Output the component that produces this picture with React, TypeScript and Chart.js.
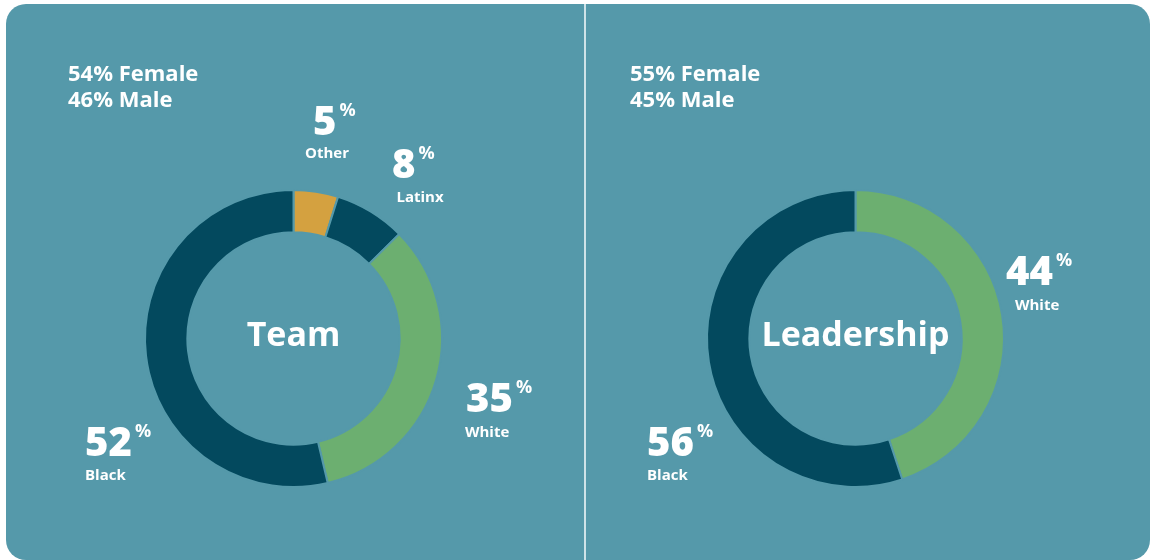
import React, { useEffect, useRef } from "react";
import { Chart, registerables } from "chart.js";

Chart.register(...registerables);

// ---- data ----
const teamCategories = ["Other", "Latinx", "White", "Black"];
// percentages printed next to the ring
const teamValues = [5, 8, 35, 52];
// arc shares as drawn in the ring
const teamArcShares = [4.85, 7.75, 33.7, 53.7];
const teamGender = ["54% Female", "46% Male"];

const leadershipCategories = ["White", "Black"];
const leadershipValues = [44, 56];
const leadershipArcShares = [44.9, 55.1];
const leadershipGender = ["55% Female", "45% Male"];

// ---- styles ----
const BG = "#5599aa";
const NAVY = "#03495e";
const GREEN = "#6caf70";
const GOLD = "#d4a140";
const FONT = '"Open Sans", "DejaVu Sans", sans-serif';

const teamColors = [GOLD, NAVY, GREEN, NAVY];
const leadershipColors = [GREEN, NAVY];

type LabelPos = { numX: number; numY: number; nameX: number; nameY: number; nameAlign: CanvasTextAlign };

const teamLabelPos: LabelPos[] = [
  { numX: 313, numY: 135, nameX: 327, nameY: 158, nameAlign: "center" },
  { numX: 392, numY: 178, nameX: 420, nameY: 202, nameAlign: "center" },
  { numX: 466, numY: 412, nameX: 465, nameY: 437, nameAlign: "left" },
  { numX: 85, numY: 456, nameX: 85, nameY: 480, nameAlign: "left" },
];
const leadershipLabelPos: LabelPos[] = [
  { numX: 1006, numY: 285, nameX: 1015, nameY: 310, nameAlign: "left" },
  { numX: 647, numY: 456, nameX: 647, nameY: 480, nameAlign: "left" },
];

type PanelCfg = {
  title: string;
  categories: string[];
  values: number[];
  arcs: number[];
  colors: string[];
  gender: string[];
  genderX: number;
  labelPos: LabelPos[];
  padding: { left: number; right: number; top: number; bottom: number };
};

const panels: PanelCfg[] = [
  {
    title: "Team",
    categories: teamCategories,
    values: teamValues,
    arcs: teamArcShares,
    colors: teamColors,
    gender: teamGender,
    genderX: 68,
    labelPos: teamLabelPos,
    padding: { left: 144, right: 715, top: 189, bottom: 72 },
  },
  {
    title: "Leadership",
    categories: leadershipCategories,
    values: leadershipValues,
    arcs: leadershipArcShares,
    colors: leadershipColors,
    gender: leadershipGender,
    genderX: 630,
    labelPos: leadershipLabelPos,
    padding: { left: 706, right: 153, top: 189, bottom: 72 },
  },
];

function makeTextPlugin(cfg: PanelCfg) {
  return {
    id: "panelText",
    afterDraw(chart: any) {
      const ctx: CanvasRenderingContext2D = chart.ctx;
      ctx.save();
      ctx.fillStyle = "#ffffff";
      ctx.textBaseline = "alphabetic";

      // gender split
      ctx.font = `700 22px ${FONT}`;
      ctx.textAlign = "left";
      cfg.gender.forEach((g, i) => ctx.fillText(g, cfg.genderX, 81 + i * 26));

      // center title
      const arc = chart.getDatasetMeta(0).data[0];
      ctx.font = `700 34px ${FONT}`;
      ctx.textAlign = "center";
      ctx.textBaseline = "middle";
      ctx.fillText(cfg.title, arc.x, arc.y - 2);
      ctx.textBaseline = "alphabetic";

      // segment labels
      cfg.values.forEach((v, i) => {
        const p = cfg.labelPos[i];
        const num = String(v);
        ctx.font = `800 40px ${FONT}`;
        ctx.textAlign = "left";
        ctx.fillText(num, p.numX, p.numY);
        const w = ctx.measureText(num).width;
        ctx.font = `700 18px ${FONT}`;
        ctx.fillText("%", p.numX + w + 3, p.numY - 19);
        ctx.font = `700 15px ${FONT}`;
        ctx.textAlign = p.nameAlign;
        ctx.fillText(cfg.categories[i], p.nameX, p.nameY);
      });
      ctx.restore();
    },
  };
}

function Panel({ cfg }: { cfg: PanelCfg }) {
  const ref = useRef<HTMLCanvasElement | null>(null);
  useEffect(() => {
    if (!ref.current) return;
    const chart = new Chart(ref.current, {
      type: "doughnut",
      data: {
        labels: cfg.categories,
        datasets: [
          {
            data: cfg.arcs,
            backgroundColor: cfg.colors,
            borderColor: BG,
            borderWidth: 2,
            hoverOffset: 0,
          },
        ],
      },
      options: {
        responsive: false,
        animation: false,
        cutout: "71.5%",
        layout: { padding: cfg.padding },
        plugins: { legend: { display: false }, tooltip: { enabled: false } },
        events: [],
      },
      plugins: [makeTextPlugin(cfg) as any],
    });
    return () => chart.destroy();
  }, [cfg]);
  return (
    <canvas
      ref={ref}
      width={1158}
      height={560}
      style={{ position: "absolute", left: 0, top: 0, width: 1158, height: 560 }}
    />
  );
}

export default function App() {
  return (
    <div style={{ position: "absolute", left: 0, top: 0, width: 1158, height: 560, background: "#ffffff", overflow: "hidden" }}>
      <div
        style={{
          position: "absolute",
          left: 6,
          top: 4,
          width: 1144,
          height: 556,
          background: BG,
          borderRadius: 20,
        }}
      />
      <div style={{ position: "absolute", left: 584, top: 4, width: 2, height: 556, background: "#cfe3e8" }} />
      {panels.map((p) => (
        <Panel key={p.title} cfg={p} />
      ))}
    </div>
  );
}
